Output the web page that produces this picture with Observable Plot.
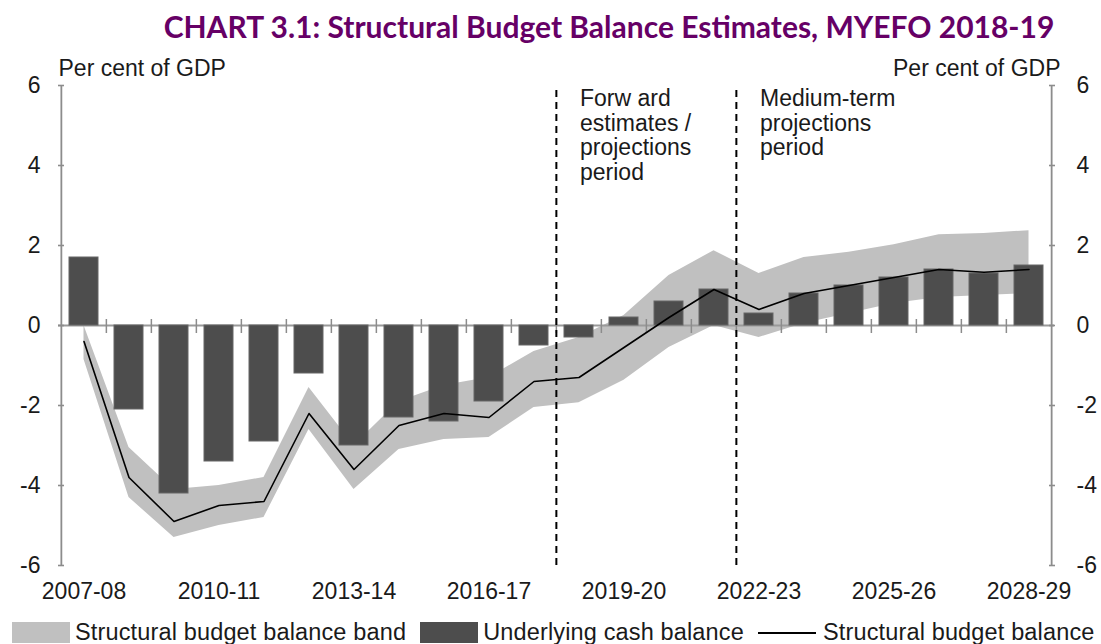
<!DOCTYPE html>
<html>
<head>
<meta charset="utf-8">
<script src="https://cdn.jsdelivr.net/npm/d3@7"></script>
<script src="https://cdn.jsdelivr.net/npm/@observablehq/plot@0.6"></script>
<style>
  html, body { margin: 0; padding: 0; background: #fff; }
  body { width: 1101px; height: 644px; overflow: hidden; position: relative; font-family: "Liberation Sans", Arial, sans-serif; color: #1a1a1a; }
  #title { position: absolute; top: 9px; left: 0; width: 1218px; text-align: center; font-family: "Lato", sans-serif; font-weight: 700; font-size: 30px; line-height: 34px; color: #660066; white-space: nowrap; }
  #chart { position: absolute; top: 48px; left: 0; }
  #legend { position: absolute; left: 12px; top: 621px; display: flex; align-items: center; font-size: 23.5px; letter-spacing: 0.15px; line-height: 23px; white-space: nowrap; }
  #legend .sw { display: inline-block; width: 58px; height: 21px; margin-right: 5px; }
  #legend .ln { display: inline-block; width: 58px; height: 2px; background: #000; margin-right: 7px; }
  #legend .item { display: flex; align-items: center; margin-right: 14px; }
</style>
</head>
<body>
<div id="title">CHART 3.1: Structural Budget Balance Estimates, MYEFO 2018-19</div>
<div id="chart"></div>
<div id="legend"></div>
<script>
// ---- data ----
const years = ["2007-08","2008-09","2009-10","2010-11","2011-12","2012-13","2013-14","2014-15","2015-16","2016-17","2017-18",
               "2018-19","2019-20","2020-21","2021-22","2022-23","2023-24","2024-25","2025-26","2026-27","2027-28","2028-29"];
const underlyingCash = [1.7,-2.1,-4.2,-3.4,-2.9,-1.2,-3.0,-2.3,-2.4,-1.9,-0.5,-0.3,0.2,0.6,0.9,0.3,0.8,1.0,1.2,1.4,1.3,1.5];
const structuralBalance = [-0.4,-3.8,-4.9,-4.5,-4.4,-2.2,-3.6,-2.5,-2.2,-2.3,-1.4,-1.3,-0.55,0.2,0.9,0.4,0.8,1.0,1.2,1.4,1.33,1.4];
const bandHigh = [0.0,-3.05,-4.1,-4.0,-3.8,-1.55,-3.0,-1.9,-1.5,-1.3,-0.65,-0.3,0.25,1.25,1.87,1.3,1.7,1.83,2.02,2.27,2.3,2.37];
const bandLow = [-0.85,-4.3,-5.3,-5.0,-4.8,-2.6,-4.1,-3.1,-2.85,-2.8,-2.05,-1.93,-1.37,-0.55,0.0,-0.3,0.05,0.3,0.55,0.7,0.75,0.8];
const yTicks = [-6,-4,-2,0,2,4,6];
const xTickLabels = ["2007-08","2010-11","2013-14","2016-17","2019-20","2022-23","2025-26","2028-29"];
const periodDividers = ["2018-19","2022-23"];
const periodNotes = ["Forw ard\nestimates /\nprojections\nperiod", "Medium-term\nprojections\nperiod"];
const axisTitle = "Per cent of GDP";
const legendItems = [
  {label: "Structural budget balance band", kind: "swatch", color: "#c0c0c0"},
  {label: "Underlying cash balance", kind: "swatch", color: "#4d4d4d"},
  {label: "Structural budget balance", kind: "line", color: "#000"}
];

const data = years.map((year, i) => ({year, ucb: underlyingCash[i], sbb: structuralBalance[i], lo: bandLow[i], hi: bandHigh[i]}));
const notes = periodDividers.map((year, i) => ({year, text: periodNotes[i]}));

// ---- layout ----
const W = 1101, H = 562, ML = 58, MR = 47, MT = 37, MB = 45;
const padIn = 0.36, padOut = 0.18;
const step = (W - ML - MR) / (years.length - padIn + 2 * padOut);
const fmt = d => String(d);
const axisGrey = "#8c8c8c";

const chart = Plot.plot({
  width: W, height: H,
  marginLeft: ML, marginRight: MR, marginTop: MT, marginBottom: MB,
  x: {type: "band", domain: years, paddingInner: padIn, paddingOuter: padOut, label: null},
  y: {domain: [-6, 6], label: null},
  style: {fontFamily: "'Liberation Sans', Arial, sans-serif", fontSize: "23px", color: "#1a1a1a", background: "#fff"},
  marks: [
    Plot.areaY(data, {x: "year", y1: "lo", y2: "hi", fill: "#c0c0c0"}),
    Plot.ruleY([0], {stroke: "#9a9a9a", strokeWidth: 2}),
    Plot.barY(data, {x: "year", y: "ucb", fill: "#4d4d4d", stroke: "#666", strokeWidth: 1}),
    Plot.ruleX(years.slice(1), {x: d => d, y1: -0.2, y2: 0.15, dx: -step / 2, stroke: axisGrey, strokeWidth: 1.5}),
    Plot.lineY(data, {x: "year", y: "sbb", stroke: "#000", strokeWidth: 1.6}),
    Plot.ruleX(periodDividers, {x: d => d, y1: -6, y2: 6, dx: -step / 2, stroke: "#000", strokeWidth: 2, strokeDasharray: "7,5"}),
    // left and right axis lines at the frame edges
    Plot.ruleX([years[0]], {x: d => d, y1: -6, y2: 6, dx: -step / 2, stroke: axisGrey, strokeWidth: 1.8}),
    Plot.ruleX([years[years.length - 1]], {x: d => d, y1: -6, y2: 6, dx: step / 2, stroke: axisGrey, strokeWidth: 1.8}),
    Plot.text(notes, {x: "year", y: 6, text: "text", textAnchor: "start", lineAnchor: "top", dx: 1, dy: 3, lineHeight: 1.07, fontSize: 23, fill: "#1a1a1a"}),
    Plot.axisX({ticks: xTickLabels, tickSize: 0, tickPadding: 17, tickFormat: fmt, fill: "#1a1a1a", label: null}),
    Plot.axisY({anchor: "left", ticks: yTicks, tickSize: -6, tickPadding: 24, tickFormat: fmt, stroke: axisGrey, strokeWidth: 1.6, fill: "#1a1a1a", label: null}),
    Plot.axisY({anchor: "right", ticks: yTicks, tickSize: -6, tickPadding: 28, tickFormat: fmt, stroke: axisGrey, strokeWidth: 1.6, fill: "#1a1a1a", label: null}),
    Plot.text([axisTitle], {text: d => d, frameAnchor: "top-left", textAnchor: "start", lineAnchor: "middle", dy: -17, fill: "#1a1a1a"}),
    Plot.text([axisTitle], {text: d => d, frameAnchor: "top-right", textAnchor: "end", lineAnchor: "middle", dx: 6, dy: -17, fill: "#1a1a1a"})
  ]
});
document.getElementById("chart").appendChild(chart);

const legend = document.getElementById("legend");
for (const it of legendItems) {
  const item = document.createElement("span");
  item.className = "item";
  const sw = document.createElement("span");
  sw.className = it.kind === "line" ? "ln" : "sw";
  sw.style.background = it.color;
  const tx = document.createElement("span");
  tx.textContent = it.label;
  item.appendChild(sw); item.appendChild(tx);
  legend.appendChild(item);
}
</script>
</body>
</html>
